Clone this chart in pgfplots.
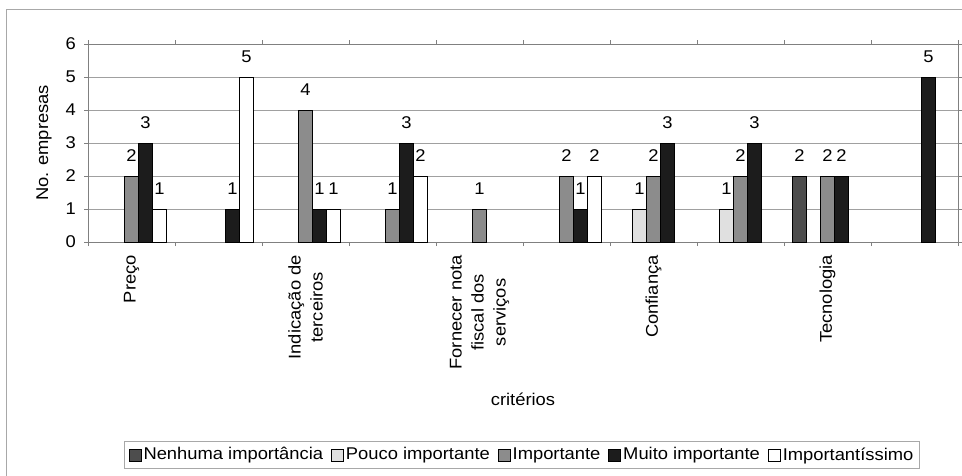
\documentclass[border=0pt]{standalone}
\usepackage{fontspec}
\setmainfont{Liberation Sans}[FakeStretch=1.08]
\usepackage{pgfplots}
\pgfplotsset{compat=1.18}
\definecolor{cNen}{HTML}{4D4D4D}
\definecolor{cPou}{HTML}{E0E0E0}
\definecolor{cImp}{HTML}{8C8C8C}
\definecolor{cMui}{HTML}{1C1C1C}
\definecolor{cImt}{HTML}{FFFFFF}
\definecolor{frame}{HTML}{A8A8A8}
\definecolor{gridc}{HTML}{A0A0A0}
\begin{document}
\fontsize{17}{22}\selectfont
\begin{tikzpicture}
\useasboundingbox (0,0) rectangle (962pt,-476pt);
\draw[color=frame, line width=1pt] (6pt,-476pt) -- (6pt,-10pt) -- (962pt,-10pt);
\begin{axis}[
  at={(88pt,-242pt)}, anchor=south west,
  scale only axis, width=870pt, height=198pt,
  xmin=0.5, xmax=10.5, ymin=0, ymax=6,
  ybar=0pt, bar width=14pt,
  ytick={0,...,6},
  ymajorgrids, grid style={color=gridc, line width=0.8pt},
  xtick={0.5,1.5,...,10.5}, xticklabels={},
  extra x ticks={1,3,5,7,9},
  extra x tick labels={Preço, {Indicação de\\terceiros}, {Fornecer nota\\fiscal dos\\serviços}, Confiança, Tecnologia},
  extra x tick style={major tick length=0pt, xmajorgrids=false,
    xticklabel shift=13pt,
    tick label style={rotate=90, anchor=east, align=center, inner sep=0pt}},
  tick align=outside, major tick length=4pt,
  axis line style={color=gray, line width=0.8pt},
  tick style={color=gray, line width=0.8pt},
  yticklabel style={inner sep=0pt, xshift=-8pt},
  /pgf/number format/assume math mode=true,
  xlabel={critérios}, ylabel={No. empresas},
  every axis x label/.style={at={(axis description cs:0.5,-0.793)}, anchor=center},
  every axis y label/.style={at={(axis description cs:-0.0505,0.5)}, rotate=90, anchor=center},
  nodes near coords,
  nodes near coords style={anchor=south, inner sep=0pt, yshift=14pt, color=black},
  legend image code/.code={\draw[#1, line width=0.8pt] (0pt,-6pt) rectangle (12pt,6pt);},
  legend style={at={(0.4989,-1.076)}, anchor=center, legend columns=-1,
    draw=frame, line width=0.8pt, inner xsep=4pt, inner ysep=4pt,
    /tikz/every even column/.append style={column sep=6pt}},
  legend cell align=left,
]
\addplot[fill=cNen, draw=black, line width=0.8pt] coordinates {(9,2)};
\addplot[fill=cPou, draw=black, line width=0.8pt] coordinates {(7,1) (8,1)};
\addplot[fill=cImp, draw=black, line width=0.8pt] coordinates {(1,2) (3,4) (4,1) (5,1) (6,2) (7,2) (8,2) (9,2)};
\addplot[fill=cMui, draw=black, line width=0.8pt] coordinates {(1,3) (2,1) (3,1) (4,3) (6,1) (7,3) (8,3) (9,2) (10,5)};
\addplot[fill=cImt, draw=black, line width=0.8pt] coordinates {(1,1) (2,5) (3,1) (4,2) (6,2)};
\legend{Nenhuma importância, Pouco importante, Importante, Muito importante, Importantíssimo}
\end{axis}
\end{tikzpicture}
\end{document}
